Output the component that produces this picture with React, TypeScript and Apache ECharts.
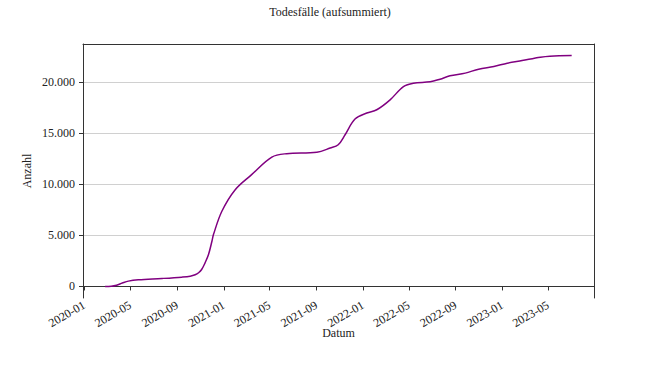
import React, { useEffect, useRef } from "react";
import * as echarts from "echarts";

const dates: string[] = [
  "2020-02-25", "2020-03-12", "2020-03-26", "2020-04-10", "2020-04-26", "2020-05-22",
  "2020-07-23", "2020-09-13", "2020-10-05", "2020-10-18", "2020-10-27", "2020-11-04",
  "2020-11-13", "2020-11-22", "2020-12-01", "2020-12-05", "2020-12-27", "2021-01-31",
  "2021-03-15", "2021-05-07", "2021-06-15", "2021-09-02", "2021-10-07", "2021-10-28",
  "2021-11-15", "2021-12-11", "2022-01-11", "2022-02-06", "2022-03-13", "2022-04-17",
  "2022-05-13", "2022-06-26", "2022-07-22", "2022-08-17", "2022-09-26", "2022-10-31",
  "2022-12-10", "2023-01-14", "2023-02-22", "2023-04-11", "2023-05-06", "2023-07-02",
];
const deaths: number[] = [
  0, 20, 120, 330, 520, 650,
  780, 910, 1000, 1140, 1340, 1660,
  2310, 3120, 4420, 5070, 7350, 9460,
  10930, 12650, 12980, 13120, 13530, 13850,
  14830, 16360, 16950, 17270, 18240, 19540,
  19870, 20000, 20260, 20590, 20850, 21240,
  21500, 21820, 22080, 22410, 22510, 22570,
];
const xTickMonths: string[] = [
  "2020-01", "2020-05", "2020-09", "2021-01", "2021-05", "2021-09",
  "2022-01", "2022-05", "2022-09", "2023-01", "2023-05",
];
const yTicks: number[] = [0, 5000, 10000, 15000, 20000];

const FONT = "'Liberation Serif', 'Times New Roman', serif";
const TXT = "#222";

function dayTs(s: string): number {
  const [y, mo, d] = s.split("-").map(Number);
  return Date.UTC(y, mo - 1, d || 1);
}
function fmtNum(v: number): string {
  return String(Math.round(v)).replace(/\B(?=(\d{3})+(?!\d))/g, ".");
}
function fmtMonth(v: number): string {
  const d = new Date(v);
  return d.getUTCFullYear() + "-" + String(d.getUTCMonth() + 1).padStart(2, "0");
}

export default function App() {
  const ref = useRef<HTMLDivElement>(null);
  useEffect(() => {
    document.body.style.margin = "0";
    if (!ref.current) return;
    const chart = echarts.init(ref.current, undefined, { renderer: "svg" });
    const xTicks = xTickMonths.map(dayTs);
    const xMin = Date.UTC(2019, 11, 29);
    const xMax = Date.UTC(2023, 7, 29, 12);
    const yMin = -1128.5;
    const yMax = 23698.5;
    chart.setOption({
      animation: false,
      textStyle: { fontFamily: FONT },
      title: {
        text: "Todesfälle (aufsummiert)",
        left: "center",
        top: 1,
        textStyle: { fontFamily: FONT, fontSize: 12, fontWeight: "normal", color: TXT },
      },
      grid: { left: 83, right: 66, top: 44, bottom: 75, containLabel: false },
      xAxis: [
        {
          type: "value",
          min: xMin,
          max: xMax,
          name: "Datum",
          nameLocation: "middle",
          nameGap: 29,
          nameMoveOverlap: false,
          nameTextStyle: { fontFamily: FONT, fontSize: 12, color: TXT },
          axisLine: { show: true, onZero: true, onZeroAxisIndex: 0, lineStyle: { color: "#333", width: 1 } },
          axisTick: { show: true, length: 4, lineStyle: { color: "#333" }, customValues: xTicks },
          axisLabel: {
            customValues: xTicks,
            rotate: 30,
            margin: 6,
            fontFamily: FONT,
            fontSize: 12,
            color: TXT,
            formatter: (v: number) => fmtMonth(v),
          },
          splitLine: { show: false },
        },
        {
          type: "value",
          position: "top",
          min: 0,
          max: 1,
          axisLine: { show: true, onZero: false, lineStyle: { color: "#333", width: 1 } },
          axisTick: { show: false },
          axisLabel: { show: false },
          splitLine: { show: false },
        },
      ],
      yAxis: [
        {
          type: "value",
          min: yMin,
          max: yMax,
          name: "Anzahl",
          nameLocation: "middle",
          nameGap: 50,
          nameMoveOverlap: false,
          nameRotate: 90,
          nameTextStyle: { fontFamily: FONT, fontSize: 12, color: TXT },
          axisLine: { show: true, onZero: false, lineStyle: { color: "#333", width: 1 } },
          axisTick: { show: true, length: 4, lineStyle: { color: "#333" }, customValues: yTicks },
          axisLabel: {
            customValues: yTicks,
            margin: 8,
            fontFamily: FONT,
            fontSize: 12,
            color: TXT,
            formatter: (v: number) => fmtNum(v),
          },
          splitLine: { show: true, lineStyle: { color: "#d0d0d0", width: 1 } },
        },
        {
          type: "value",
          position: "right",
          min: yMin,
          max: yMax,
          axisLine: { show: true, onZero: false, lineStyle: { color: "#333", width: 1 } },
          axisTick: { show: false },
          axisLabel: { show: false },
          splitLine: { show: false },
        },
      ],
      series: [
        {
          type: "line",
          xAxisIndex: 0,
          yAxisIndex: 0,
          data: dates.map((d, i) => [dayTs(d), deaths[i]]),
          showSymbol: false,
          smooth: 0.35,
          lineStyle: { color: "#800080", width: 1.5 },
          itemStyle: { color: "#800080" },
        },
      ],
    });
    return () => chart.dispose();
  }, []);
  return <div ref={ref} style={{ width: 660, height: 373 }} />;
}
